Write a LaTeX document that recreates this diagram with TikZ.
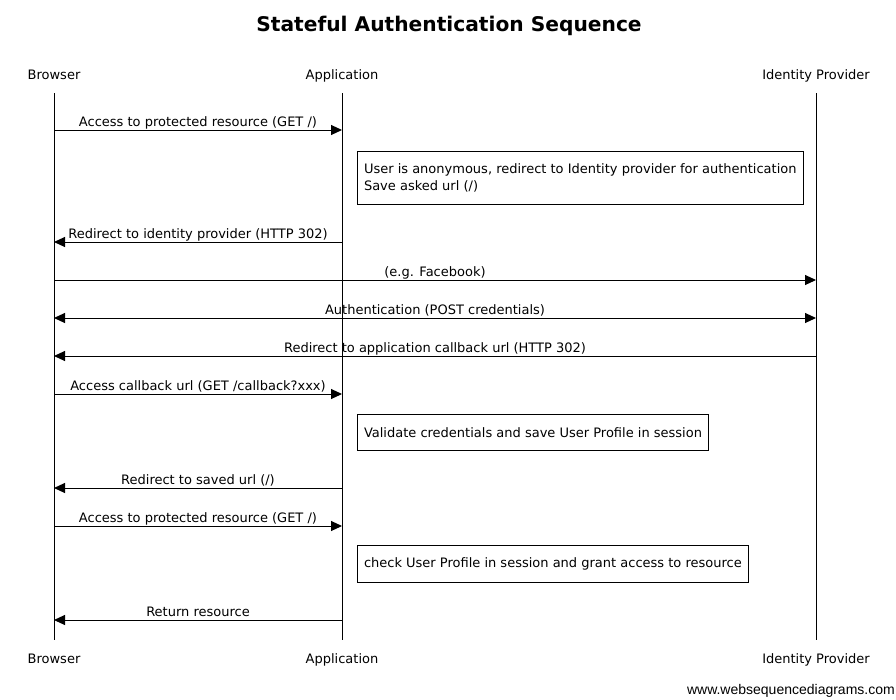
\documentclass[tikz,border=0pt]{standalone}
\usepackage{fontspec}
\setmainfont{DejaVu Sans}
\newfontfamily\creditfont{Liberation Sans}
\usepackage{tikz}
\usetikzlibrary{arrows.meta,positioning,calc}

\begin{document}
\begin{tikzpicture}[
    x=1pt, y=-1pt,
    font=\fontsize{13}{17.5}\selectfont,
    actor/.style={inner sep=0pt, anchor=base},
    lifeline/.style={line width=1pt},
    msg/.style={-{Triangle[length=11pt,width=10pt]}, line width=1pt},
    dblmsg/.style={{Triangle[length=11pt,width=10pt]}-{Triangle[length=11pt,width=10pt]}, line width=1pt},
    msglabel/.style={anchor=base, inner sep=0pt, yshift=4pt},
    note/.style={draw, line width=1pt, anchor=north west, align=left, inner xsep=6.5pt}
]
    \useasboundingbox[fill=white] (0,0) rectangle (896,699);

    % Title
    \node[font=\fontsize{20.2}{24}\bfseries\selectfont] (title) at (449,25.5) {Stateful Authentication Sequence};

    % Participants
    \node[actor] (browserHead) at (54,79) {Browser};
    \node[actor] (appHead) at (342,79) {Application};
    \node[actor] (idpHead) at (816,79) {Identity Provider};
    \node[actor] (browserFoot) at (54,663) {Browser};
    \node[actor] (appFoot) at (342,663) {Application};
    \node[actor] (idpFoot) at (816,663) {Identity Provider};

    % Lifelines
    \coordinate (browserTop) at (54,93);
    \coordinate (browserEnd) at (54,640);
    \coordinate (appTop) at (342,93);
    \coordinate (appEnd) at (342,640);
    \coordinate (idpTop) at (816,93);
    \coordinate (idpEnd) at (816,640);
    \draw[lifeline] (browserTop) -- (browserEnd);
    \draw[lifeline] (appTop) -- (appEnd);
    \draw[lifeline] (idpTop) -- (idpEnd);

    % Message rows
    \coordinate (m1) at (0,130);
    \coordinate (m2) at (0,242);
    \coordinate (m3) at (0,280);
    \coordinate (m4) at (0,318);
    \coordinate (m5) at (0,356);
    \coordinate (m6) at (0,394);
    \coordinate (m7) at (0,488);
    \coordinate (m8) at (0,526);
    \coordinate (m9) at (0,620);

    % First access
    \draw[msg] (browserTop |- m1) -- node[msglabel] (l1) {Access to protected resource (GET /)} (appTop |- m1);
    \node[note, minimum height=53pt] (note1) at (357,151) {User is anonymous, redirect to Identity provider for authentication\\Save asked url (/)};
    \draw[msg] (appTop |- m2) -- node[msglabel] (l2) {Redirect to identity provider (HTTP 302)} (browserTop |- m2);

    % Identity provider
    \draw[msg] (browserTop |- m3) -- node[msglabel] (l3) {(e.g. Facebook)} (idpTop |- m3);
    \draw[dblmsg] (browserTop |- m4) -- node[msglabel] (l4) {Authentication (POST credentials)} (idpTop |- m4);
    \draw[msg] (idpTop |- m5) -- node[msglabel] (l5) {Redirect to application callback url (HTTP 302)} (browserTop |- m5);

    % Callback
    \draw[msg] (browserTop |- m6) -- node[msglabel] (l6) {Access callback url (GET /callback?xxx)} (appTop |- m6);
    \node[note, minimum height=36pt] (note2) at (357,414) {Validate credentials and save User Profile in session};
    \draw[msg] (appTop |- m7) -- node[msglabel] (l7) {Redirect to saved url (/)} (browserTop |- m7);

    % Second access
    \draw[msg] (browserTop |- m8) -- node[msglabel] (l8) {Access to protected resource (GET /)} (appTop |- m8);
    \node[note, minimum height=37pt] (note3) at (357,545) {check User Profile in session and grant access to resource};
    \draw[msg] (appTop |- m9) -- node[msglabel] (l9) {Return resource} (browserTop |- m9);

    % Credit
    \node[font=\creditfont\fontsize{14}{16}\selectfont, anchor=east, inner sep=0pt] (credit) at (895,691) {www.websequencediagrams.com};
\end{tikzpicture}
\end{document}
